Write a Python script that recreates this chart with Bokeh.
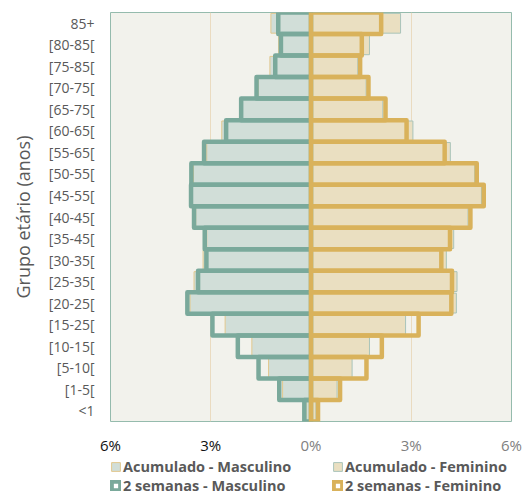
from bokeh.plotting import figure
from bokeh.layouts import column
from bokeh.models import FactorRange, FixedTicker, Legend, LegendItem, LinearAxis
from bokeh.embed import file_html
from bokeh.resources import INLINE

# ---- data (top to bottom as in the picture) ----
categories = ["85+", "[80-85[", "[75-85[", "[70-75[", "[65-75[", "[60-65[", "[55-65[",
              "[50-55[", "[45-55[", "[40-45[", "[35-45[", "[30-35[", "[25-35[",
              "[20-25[", "[15-25[", "[10-15[", "[5-10[", "[1-5[", "<1"]
acum_masc = [1.20, 0.97, 1.23, 1.58, 2.05, 2.67, 3.12, 3.52, 3.55, 3.45, 3.12, 3.23, 3.50,
             3.62, 2.57, 1.77, 1.27, 0.85, 0.15]
sem2_masc = [0.98, 0.90, 1.07, 1.63, 2.09, 2.54, 3.20, 3.58, 3.59, 3.50, 3.18, 3.13, 3.38,
             3.70, 2.95, 2.19, 1.57, 0.95, 0.20]
acum_fem = [2.68, 1.75, 1.40, 1.65, 2.15, 3.05, 4.17, 4.90, 5.10, 4.70, 4.27, 4.05, 4.37,
            4.35, 2.83, 1.75, 1.23, 0.78, 0.15]
sem2_fem = [2.10, 1.52, 1.47, 1.72, 2.23, 2.86, 4.00, 4.96, 5.17, 4.77, 4.16, 3.90, 4.22,
            4.20, 3.22, 2.12, 1.66, 0.87, 0.21]
tick_values = [-6, -3, 0, 3, 6]
tick_labels = ["6%", "3%", "0%", "3%", "6%"]
series_names = ["Acumulado - Masculino", "Acumulado - Feminino",
                "2 semanas - Masculino", "2 semanas - Feminino"]

FONT = "Open Sans"
TEAL = "#7aa99b"
GOLD = "#d9b25b"
STYLE_AM = dict(fill_color="#d1ded8", line_color="#e2c88e", line_width=1)
STYLE_AF = dict(fill_color="#eadfc1", line_color="#a9c4ba", line_width=1)
STYLE_SM = dict(fill_alpha=0, line_color=TEAL, line_width=4.5, line_join="round")
STYLE_SF = dict(fill_alpha=0, line_color=GOLD, line_width=4.5, line_join="round")

p = figure(y_range=FactorRange(*categories[::-1]), x_range=(-6, 6),
           width=522, height=457,
           min_border_left=110, min_border_right=11, min_border_top=12, min_border_bottom=36,
           output_backend="svg", toolbar_location=None, x_axis_location=None)
p.background_fill_color = "#f2f2ec"
p.border_fill_color = "white"
p.outline_line_color = "#95bbad"
p.outline_line_width = 1

p.hbar(y=categories, left=[-v for v in acum_masc], right=0, height=0.92, **STYLE_AM)
p.hbar(y=categories, left=0, right=acum_fem, height=0.92, **STYLE_AF)
p.hbar(y=categories, left=[-v for v in sem2_masc], right=0, height=1.0, **STYLE_SM)
p.hbar(y=categories, left=0, right=sem2_fem, height=1.0, **STYLE_SF)

# x axes: grey labels for 0..6, black for the left side (overlaid on the same line)
def make_axis(ticks, color, standoff):
    return LinearAxis(ticker=FixedTicker(ticks=ticks),
                      major_label_overrides={t: lab for t, lab in zip(tick_values, tick_labels)},
                      axis_line_color=None, major_tick_line_color=None,
                      minor_tick_line_color=None, major_tick_out=0, major_tick_in=0,
                      major_label_standoff=standoff,
                      major_label_text_font=FONT, major_label_text_font_size="15px",
                      major_label_text_color=color)

p.add_layout(make_axis([t for t in tick_values if t >= 0], "#7f7f7f", 13), "below")
p.add_layout(make_axis([t for t in tick_values if t < 0], "#111111", -23), "below")

p.xgrid.ticker = FixedTicker(ticks=[-3, 3])
p.xgrid.grid_line_color = "#eadbc0"
p.ygrid.grid_line_color = None

# y axis
p.yaxis.axis_line_color = None
p.yaxis.major_tick_line_color = None
p.yaxis.minor_tick_line_color = None
p.yaxis.major_tick_out = 0
p.yaxis.major_tick_in = 0
p.yaxis.major_label_standoff = 16
p.yaxis.major_label_text_font = FONT
p.yaxis.major_label_text_font_size = "14px"
p.yaxis.major_label_text_color = "#595959"
p.yaxis.axis_label = "Grupo etário (anos)"
p.yaxis.axis_label_text_font = FONT
p.yaxis.axis_label_text_font_size = "18px"
p.yaxis.axis_label_text_font_style = "normal"
p.yaxis.axis_label_text_color = "#595959"
p.yaxis.axis_label_standoff = 11

# legend strip below the chart (legend-only proxies, nothing drawn)
q = figure(width=522, height=40, x_range=(0, 1), y_range=(0, 1),
           min_border_left=99, min_border_right=0, min_border_top=0, min_border_bottom=0,
           output_backend="svg", toolbar_location=None,
           x_axis_location=None, y_axis_location=None)
q.grid.grid_line_color = None
q.outline_line_color = None
q.background_fill_color = "white"
q.border_fill_color = "white"
nan = float("nan")
l_am = q.hbar(y=[nan], left=[nan], right=[nan], height=1, **STYLE_AM)
l_af = q.hbar(y=[nan], left=[nan], right=[nan], height=1, **STYLE_AF)
l_sm = q.hbar(y=[nan], left=[nan], right=[nan], height=1, **STYLE_SM)
l_sf = q.hbar(y=[nan], left=[nan], right=[nan], height=1, **STYLE_SF)
legend = Legend(items=[LegendItem(label=series_names[0], renderers=[l_am]),
                       LegendItem(label=series_names[1], renderers=[l_af]),
                       LegendItem(label=series_names[2], renderers=[l_sm]),
                       LegendItem(label=series_names[3], renderers=[l_sf])],
                ncols=2, orientation="horizontal", location="top_left",
                padding=0, margin=0, spacing=0, label_standoff=2,
                glyph_width=11, glyph_height=11, label_width=209, label_height=19,
                label_text_font=FONT, label_text_font_size="14.5px",
                label_text_font_style="bold", label_text_color="#595959",
                border_line_color=None, background_fill_alpha=0)
q.add_layout(legend)

open("out.html", "w").write(file_html(column(p, q, spacing=0), INLINE))
